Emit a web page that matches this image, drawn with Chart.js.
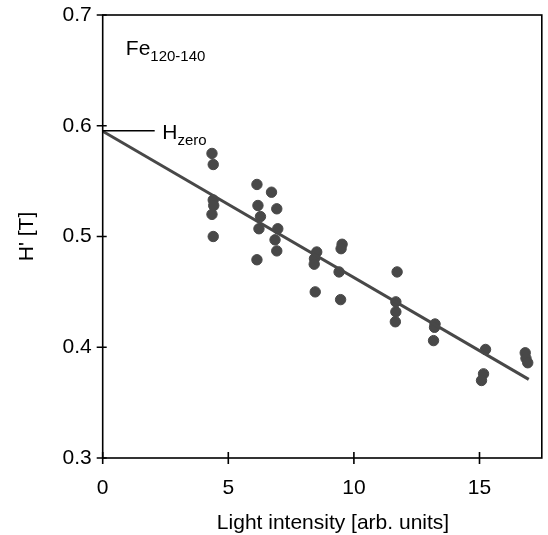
<!DOCTYPE html>
<html>
<head>
<meta charset="utf-8">
<script src="https://cdn.jsdelivr.net/npm/chart.js@4"></script>
<style>
  html, body { margin: 0; padding: 0; background: #fff; }
  #wrap { width: 548px; height: 535px; }
</style>
</head>
<body>
<div id="wrap"><canvas id="myChart"></canvas></div>
<script>
// measured points, light intensity vs H'
const lightIntensity = [
  4.35, 4.40, 4.40, 4.42, 4.35, 4.40,
  6.14, 6.72, 6.18, 6.93, 6.28, 6.22, 6.97, 6.86, 6.93, 6.14,
  8.52, 8.43, 8.42, 8.46,
  9.53, 9.49, 9.41, 9.47,
  11.72, 11.67, 11.67, 11.65,
  13.23, 13.21, 13.17,
  15.24, 15.16, 15.08,
  16.82, 16.85, 16.92
];
const hPrime = [
  0.575, 0.565, 0.533, 0.528, 0.520, 0.500,
  0.547, 0.540, 0.528, 0.525, 0.518, 0.507, 0.507, 0.497, 0.487, 0.479,
  0.486, 0.480, 0.475, 0.450,
  0.493, 0.489, 0.468, 0.443,
  0.468, 0.441, 0.432, 0.423,
  0.421, 0.418, 0.406,
  0.398, 0.376, 0.370,
  0.395, 0.390, 0.386
];

// fitted line
const fitX = [0, 16.96];
const fitY = [0.595, 0.371];

const xTicks = [0, 5, 10, 15];
const yTicks = [0.3, 0.4, 0.5, 0.6, 0.7];

const hZero = 0.5955;

const FONT = '"Liberation Sans", Arial, Helvetica, sans-serif';
const DARK = '#484848';

const points = lightIntensity.map((x, i) => ({ x: x, y: hPrime[i] }));
const fitLine = fitX.map((x, i) => ({ x: x, y: fitY[i] }));

// frame, ticks crossing the axes, and the text labels
const decorations = {
  id: 'decorations',
  afterDraw(chart) {
    const ctx = chart.ctx;
    const a = chart.chartArea;
    const xs = chart.scales.x;
    const ys = chart.scales.y;
    ctx.save();
    ctx.strokeStyle = '#000';
    ctx.lineWidth = 1.6;
    ctx.strokeRect(a.left, a.top, a.right - a.left, a.bottom - a.top);

    ctx.beginPath();
    xTicks.forEach(v => {
      const px = xs.getPixelForValue(v);
      ctx.moveTo(px, a.bottom - 6);
      ctx.lineTo(px, a.bottom + 6);
    });
    yTicks.forEach(v => {
      const py = ys.getPixelForValue(v);
      ctx.moveTo(a.left - 6, py);
      ctx.lineTo(a.left + 4, py);
    });
    // H zero marker
    const hy = ys.getPixelForValue(hZero);
    ctx.moveTo(a.left, hy);
    ctx.lineTo(xs.getPixelForValue(2.07), hy);
    ctx.stroke();

    ctx.fillStyle = '#000';
    ctx.textBaseline = 'alphabetic';
    ctx.textAlign = 'left';

    // H_zero label
    let tx = xs.getPixelForValue(2.37);
    ctx.font = '21px ' + FONT;
    ctx.fillText('H', tx, hy + 8);
    tx += ctx.measureText('H').width;
    ctx.font = '15px ' + FONT;
    ctx.fillText('zero', tx, hy + 14);

    // Fe label
    tx = xs.getPixelForValue(0.92);
    const fy = ys.getPixelForValue(0.664);
    ctx.font = '21px ' + FONT;
    ctx.fillText('Fe', tx, fy);
    tx += ctx.measureText('Fe').width;
    ctx.font = '15px ' + FONT;
    ctx.fillText('120-140', tx, fy + 6);

    // x axis title
    ctx.font = '21px ' + FONT;
    ctx.textAlign = 'center';
    ctx.fillText('Light intensity [arb. units]', 333, 529);
    ctx.restore();
  }
};

const config = {
  type: 'scatter',
  data: {
    datasets: [
      {
        label: 'data',
        data: points,
        backgroundColor: DARK,
        borderColor: DARK,
        pointRadius: 5.2,
        pointHoverRadius: 5.2,
        order: 2
      },
      {
        type: 'line',
        label: 'fit',
        data: fitLine,
        borderColor: DARK,
        borderWidth: 3,
        pointRadius: 0,
        fill: false,
        order: 1
      }
    ]
  },
  options: {
    responsive: false,
    animation: false,
    layout: { padding: { top: 15, right: 3, left: 0, bottom: 0 } },
    plugins: {
      legend: { display: false },
      tooltip: { enabled: false }
    },
    scales: {
      x: {
        type: 'linear',
        min: 0,
        max: 17.48,
        grid: { display: false, drawTicks: false },
        border: { display: false },
        afterBuildTicks: s => { s.ticks = xTicks.map(v => ({ value: v })); },
        afterFit: s => { s.height = 77; s.paddingLeft = 0; s.paddingRight = 0; },
        ticks: {
          color: '#000',
          padding: 18,
          maxRotation: 0,
          font: { family: FONT, size: 21 },
          callback: v => String(v)
        }
      },
      y: {
        min: 0.3,
        max: 0.7,
        grid: { display: false, drawTicks: false },
        border: { display: false },
        afterBuildTicks: s => { s.ticks = yTicks.map(v => ({ value: v })); },
        afterFit: s => { s.width = 102.7; s.paddingTop = 0; s.paddingBottom = 0; },
        ticks: {
          color: '#000',
          padding: 11,
          font: { family: FONT, size: 21 },
          callback: v => v.toFixed(1)
        },
        title: {
          display: true,
          text: "H' [T]",
          color: '#000',
          padding: { top: 15, bottom: 0 },
          font: { family: FONT, size: 21 }
        }
      }
    }
  },
  plugins: [decorations]
};

const canvas = document.getElementById('myChart');
canvas.width = 548;
canvas.height = 535;
const myChart = new Chart(canvas, config);
</script>
</body>
</html>
